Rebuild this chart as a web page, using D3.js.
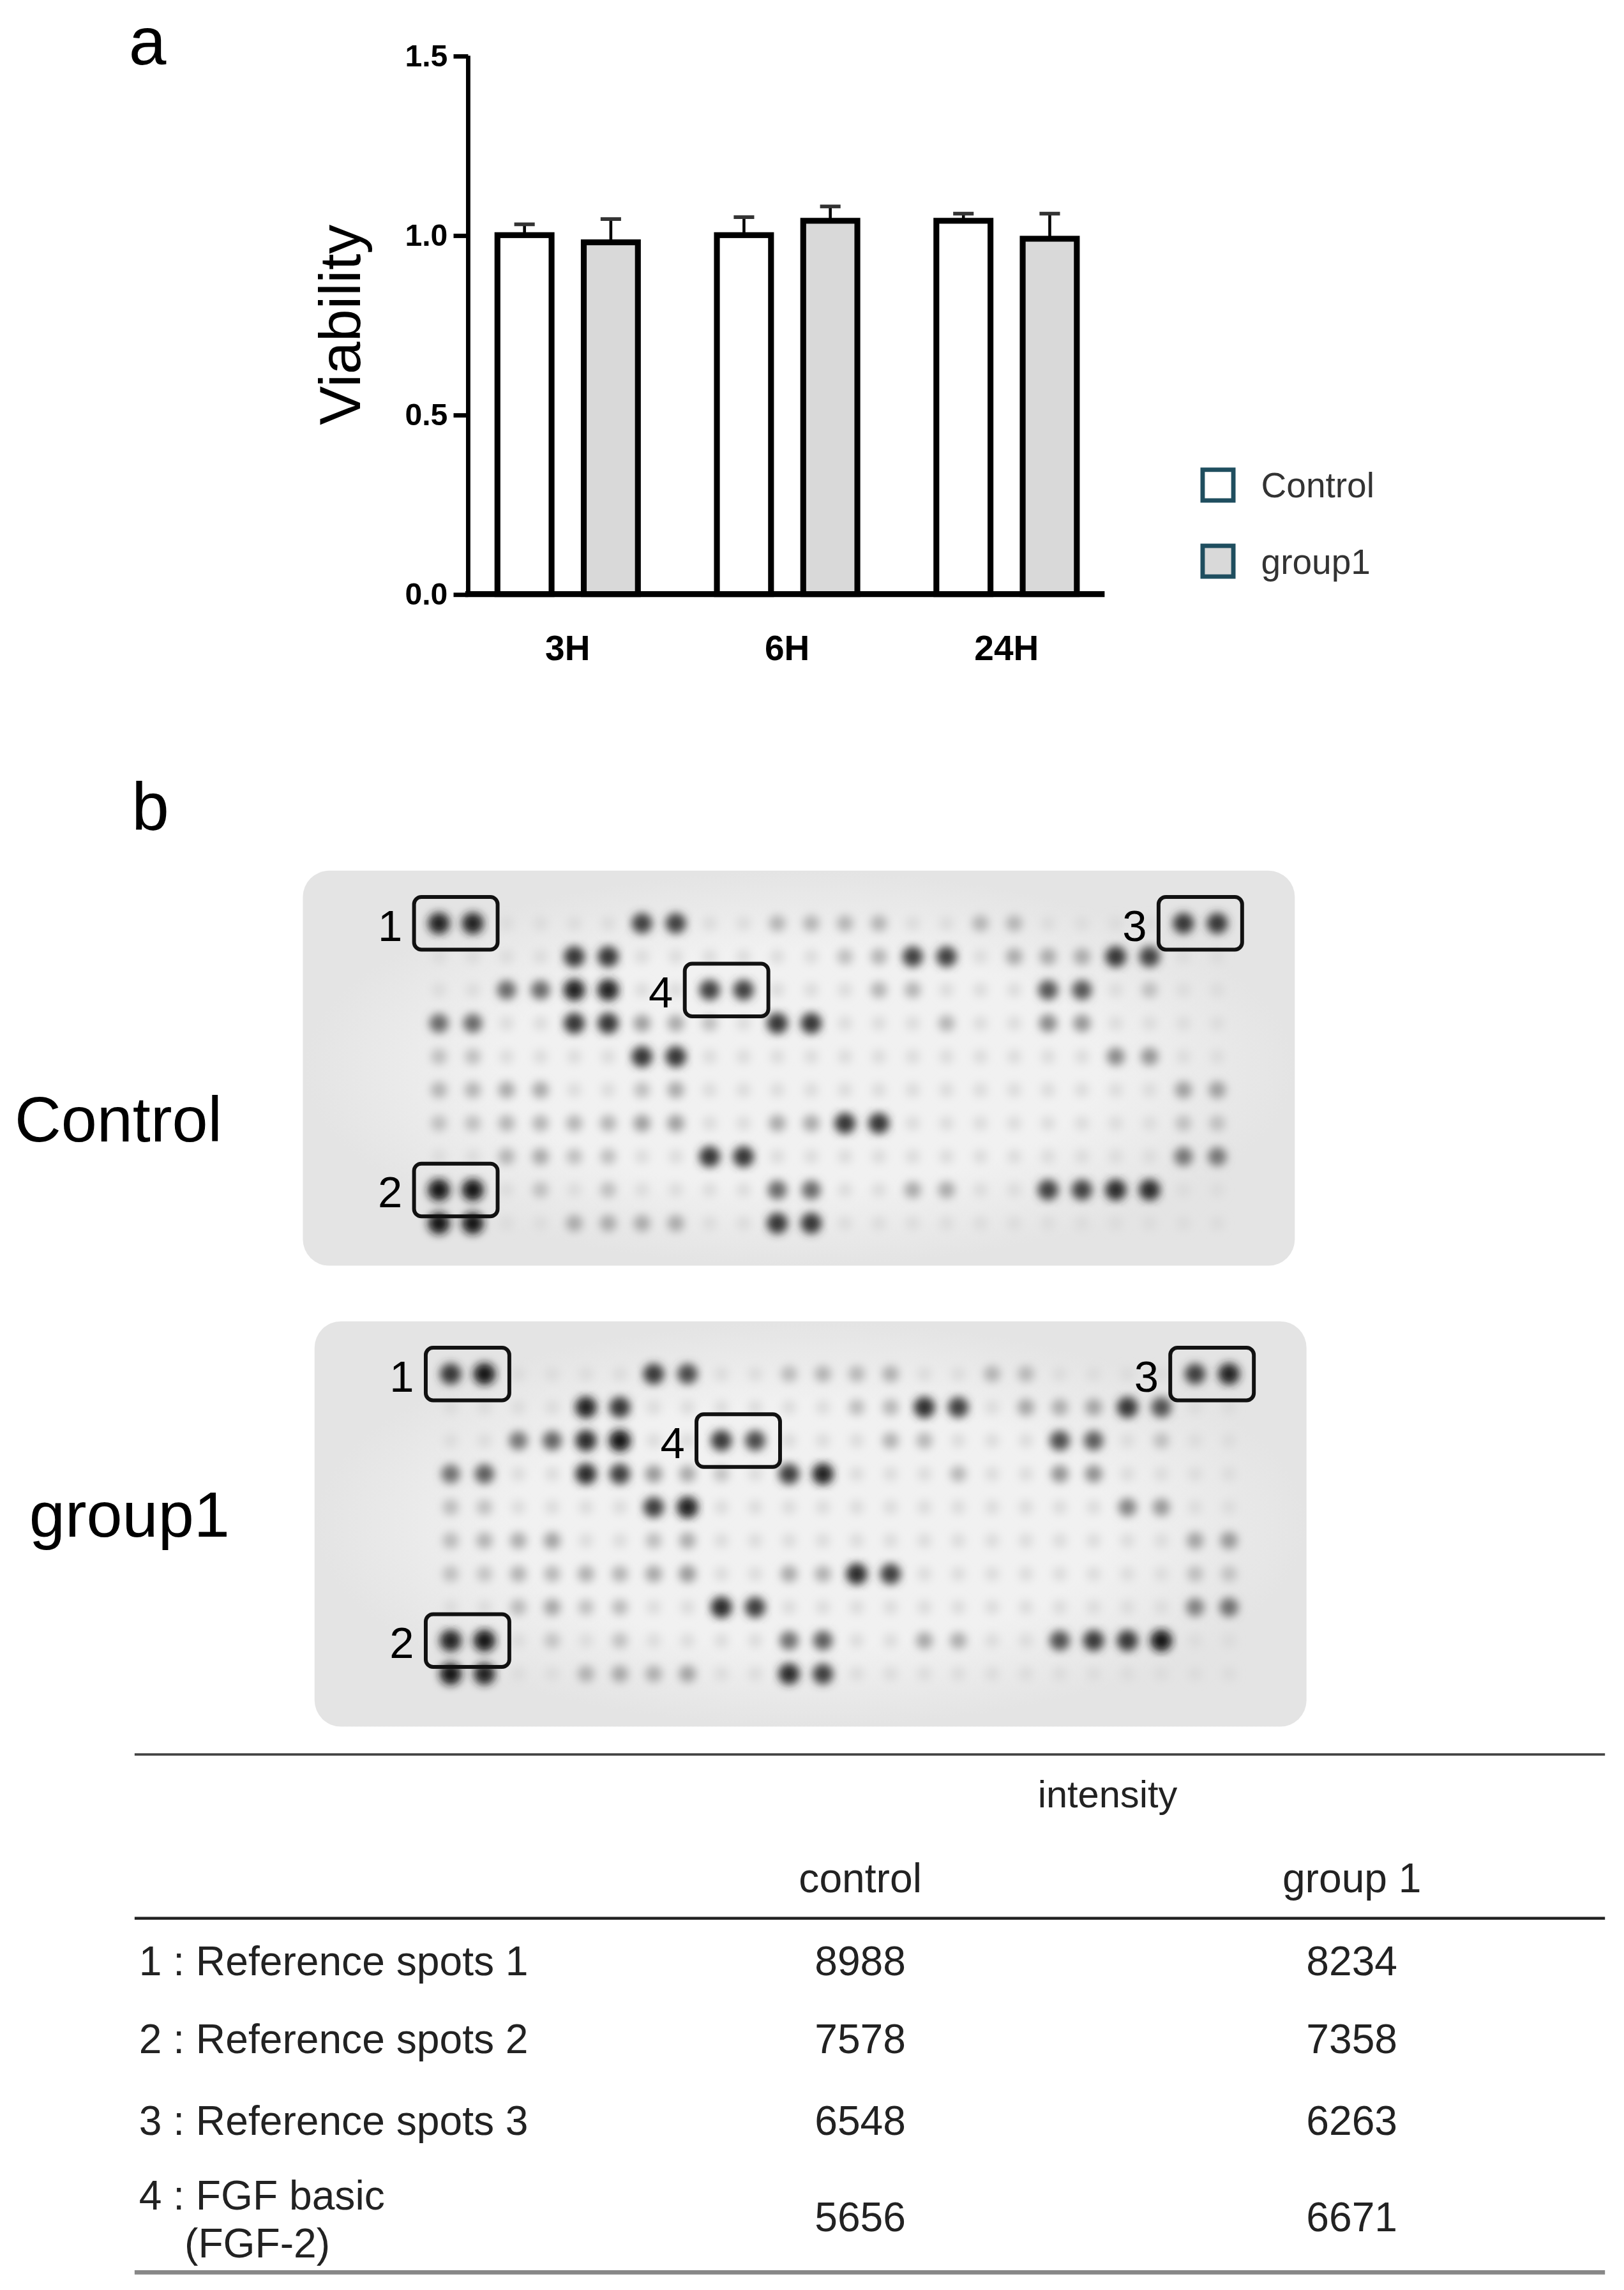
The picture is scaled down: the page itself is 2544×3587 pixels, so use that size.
<!DOCTYPE html>
<html><head><meta charset="utf-8">
<script src="https://cdn.jsdelivr.net/npm/d3@7"></script>
<style>body{margin:0;background:#fff}</style></head>
<body><svg id="c" width="2544" height="3587" viewBox="0 0 1110 1565"></svg>
<script>
// ---------- data ----------
const times = ["3H","6H","24H"];
const groups = ["Control","group1"];
const means = {Control:[1.0,1.0,1.04], group1:[0.98,1.04,0.99]};
const errs  = {Control:[0.03,0.05,0.02], group1:[0.065,0.04,0.07]};
const yTicks = [0.0,0.5,1.0,1.5];
const groupFill = {Control:"#ffffff", group1:"#d9d9d9"};

// array spots: [row, column(0..23), darkness 0..1]
const spotsControl = [
 [0,0,.95],[0,1,.95],[0,6,.8],[0,7,.8],[0,10,.25],[0,11,.25],[0,12,.25],[0,13,.25],[0,16,.25],[0,17,.25],[0,22,.85],[0,23,.85],
 [1,4,.85],[1,5,.85],[1,14,.8],[1,15,.8],[1,12,.2],[1,13,.25],[1,17,.3],[1,18,.3],[1,19,.3],[1,20,.85],[1,21,.8],
 [2,2,.6],[2,3,.6],[2,4,.95],[2,5,.95],[2,8,.8],[2,9,.8],[2,13,.25],[2,14,.25],[2,18,.7],[2,19,.7],[2,21,.2],
 [3,0,.6],[3,1,.6],[3,4,.85],[3,5,.85],[3,6,.35],[3,7,.3],[3,10,.85],[3,11,.85],[3,8,.2],[3,15,.25],[3,18,.45],[3,19,.4],
 [4,0,.2],[4,1,.2],[4,6,.85],[4,7,.85],[4,20,.45],[4,21,.4],
 [5,0,.25],[5,1,.25],[5,2,.3],[5,3,.3],[5,6,.2],[5,7,.3],[5,22,.35],[5,23,.35],
 [6,0,.2],[6,1,.2],[6,2,.25],[6,3,.25],[6,4,.25],[6,5,.25],[6,6,.35],[6,7,.35],[6,10,.3],[6,11,.3],[6,12,.85],[6,13,.85],[6,22,.2],[6,23,.2],
 [7,2,.25],[7,3,.3],[7,4,.2],[7,5,.2],[7,8,.85],[7,9,.85],[7,22,.55],[7,23,.55],
 [8,0,1],[8,1,1],[8,10,.6],[8,11,.6],[8,14,.3],[8,15,.3],[8,18,.8],[8,19,.8],[8,20,.9],[8,21,.9],[8,3,.2],[8,5,.2],
 [9,0,1],[9,1,1],[9,4,.3],[9,5,.3],[9,6,.3],[9,7,.3],[9,10,.85],[9,11,.85]
];
const spotsGroup1 = spotsControl.map(([r,c,v]) => [r,c,Math.min(1, v*(((r*7+c*3)%5)/20+0.9))]);
const baseDark = 0.06;
const boxes = [ // label, row, first column
 ["1",0,0],["2",8,0],["3",0,22],["4",2,8]
];
const tableRows = [
 ["1 : Reference spots 1","8988","8234"],
 ["2 : Reference spots 2","7578","7358"],
 ["3 : Reference spots 3","6548","6263"],
 ["4 : FGF basic\n    (FGF-2)","5656","6671"]
];
const tableCols = ["control","group 1"];

// ---------- panel a ----------
const svg = d3.select("#c");
const bold = "'Liberation Sans',Arial,sans-serif";
svg.append("text").attr("x",88).attr("y",44).attr("font-size",46).attr("font-family","Liberation Sans, Arial").text("a");
const y = d3.scaleLinear().domain([0,1.5]).range([406,38]);
const x0 = d3.scaleBand().domain(times).range([340,736]).paddingInner(0.36).paddingOuter(0);
const x1 = d3.scaleBand().domain(groups).range([0,x0.bandwidth()]).paddingInner(0.373).paddingOuter(0);
const ga = svg.append("g");
times.forEach((t,i)=>{
  groups.forEach(g=>{
    const cx = x0(t)+x1(g), w = x1.bandwidth();
    const top = y(means[g][i]);
    ga.append("line").attr("x1",cx+w/2).attr("x2",cx+w/2).attr("y1",y(means[g][i]+errs[g][i])).attr("y2",top).attr("stroke","#000").attr("stroke-width",2);
    ga.append("line").attr("x1",cx+w/2-7).attr("x2",cx+w/2+7).attr("y1",y(means[g][i]+errs[g][i])).attr("y2",y(means[g][i]+errs[g][i])).attr("stroke","#333").attr("stroke-width",2.5);
    ga.append("rect").attr("x",cx).attr("y",top).attr("width",w).attr("height",y(0)-top)
      .attr("fill",groupFill[g]).attr("stroke","#000").attr("stroke-width",4);
  });
});
const yAxis = svg.append("g").attr("transform","translate(320,0)")
  .call(d3.axisLeft(y).tickValues(yTicks).tickFormat(d3.format(".1f")).tickSize(10));
yAxis.select(".domain").attr("stroke-width",3).attr("d","M0,38V406");
yAxis.selectAll(".tick line").attr("stroke-width",3);
yAxis.selectAll("text").attr("font-size",21).attr("font-weight","bold").attr("font-family",bold).attr("x",-14);
svg.append("line").attr("x1",318).attr("x2",755).attr("y1",406).attr("y2",406).attr("stroke","#000").attr("stroke-width",4);
svg.append("g").selectAll("text").data(times).join("text")
  .attr("x",d=>x0(d)+x0.bandwidth()/2).attr("y",451).attr("text-anchor","middle")
  .attr("font-size",24).attr("font-weight","bold").attr("font-family",bold).text(d=>d);
svg.append("text").attr("transform","translate(246,222) rotate(-90)").attr("text-anchor","middle")
  .attr("font-size",40).attr("font-family","Liberation Sans, Arial").text("Viability");
groups.forEach((g,i)=>{
  svg.append("rect").attr("x",822).attr("y",321+i*52).attr("width",21).attr("height",21)
    .attr("fill",groupFill[g]).attr("stroke","#1f4e5f").attr("stroke-width",3);
  svg.append("text").attr("x",862).attr("y",340+i*52).attr("font-size",24).attr("fill","#333")
    .attr("font-family","Liberation Sans, Arial").text(g);
});

// ---------- panel b ----------
svg.append("text").attr("x",90).attr("y",567).attr("font-size",46).attr("font-family","Liberation Sans, Arial").text("b");
const defs = svg.append("defs");
defs.append("filter").attr("id","blur").attr("x","-50%").attr("y","-50%").attr("width","200%").attr("height","200%")
  .append("feGaussianBlur").attr("stdDeviation",3);
const grad = defs.append("radialGradient").attr("id","bg");
grad.append("stop").attr("offset","60%").attr("stop-color","#f1f1f1");
grad.append("stop").attr("offset","100%").attr("stop-color","#e4e4e4");

function blot(ox, oy, w, h, spots, label, lx, ly){
  const sx = d3.scaleLinear().domain([0,23]).range([ox+93, ox+625]);
  const sy = d3.scaleLinear().domain([0,9]).range([oy+36, oy+241]);
  const shade = d3.scaleLinear().domain([0,1]).range(["#e8e8e8","#151515"]);
  const gb = svg.append("g");
  gb.append("rect").attr("x",ox).attr("y",oy).attr("width",w).attr("height",h).attr("rx",18).attr("fill","url(#bg)");
  const gs = gb.append("g").attr("filter","url(#blur)");
  const all = [];
  for(let r=0;r<10;r++) for(let c=0;c<24;c++) all.push([r,c,baseDark]);
  gs.selectAll("circle.b").data(all).join("circle").attr("cx",d=>sx(d[1])).attr("cy",d=>sy(d[0])).attr("r",5).attr("fill",d=>shade(d[2]));
  gs.selectAll("circle.s").data(spots).join("circle").attr("cx",d=>sx(d[1])).attr("cy",d=>sy(d[0])).attr("r",d=>5+d[2]*2.5).attr("fill",d=>shade(d[2]));
  boxes.forEach(([t,r,c])=>{
    const bx = sx(c)-17, by = sy(r)-18, bw = sx(c+1)-sx(c)+34;
    gb.append("rect").attr("x",bx).attr("y",by).attr("width",bw).attr("height",36).attr("rx",5)
      .attr("fill","none").attr("stroke","#111").attr("stroke-width",2.6);
    gb.append("text").attr("x",bx-8).attr("y",by+30).attr("text-anchor","end").attr("font-size",30)
      .attr("font-family","Liberation Sans, Arial").text(t);
  });
  svg.append("text").attr("x",lx).attr("y",ly).attr("font-size",44).attr("font-family","Liberation Sans, Arial").text(label);
}
blot(207,595,678,270,spotsControl,"Control",10,780);
blot(215,903,678,277,spotsGroup1,"group1",20,1050);

// ---------- table ----------
const tf = "Liberation Sans, Arial, sans-serif";
const colX = [588,924];
svg.append("line").attr("x1",92).attr("x2",1097).attr("y1",1199).attr("y2",1199).attr("stroke","#444").attr("stroke-width",1.6);
svg.append("text").attr("x",757).attr("y",1235).attr("text-anchor","middle").attr("font-size",26).attr("font-family",tf).attr("fill","#222").text("intensity");
tableCols.forEach((c,i)=>svg.append("text").attr("x",colX[i]).attr("y",1293).attr("text-anchor","middle").attr("font-size",28).attr("font-family",tf).attr("fill","#222").text(c));
svg.append("line").attr("x1",92).attr("x2",1097).attr("y1",1311).attr("y2",1311).attr("stroke","#222").attr("stroke-width",2);
const rowY = [1340,1393,1449,1515];
tableRows.forEach((r,i)=>{
  const lines = r[0].split("\n");
  const ly0 = lines.length>1 ? 1500 : rowY[i];
  lines.forEach((l,j)=>svg.append("text").attr("x",95).attr("y",ly0+j*33+10).attr("font-size",28).attr("font-family",tf)
    .attr("fill","#222").attr("xml:space","preserve").style("white-space","pre").text(l));
  [r[1],r[2]].forEach((v,k)=>svg.append("text").attr("x",colX[k]).attr("y",rowY[i]+10).attr("text-anchor","middle")
    .attr("font-size",28).attr("font-family",tf).attr("fill","#222").text(v));
});
svg.append("line").attr("x1",92).attr("x2",1097).attr("y1",1553).attr("y2",1553).attr("stroke","#888").attr("stroke-width",3);
</script></body></html>
